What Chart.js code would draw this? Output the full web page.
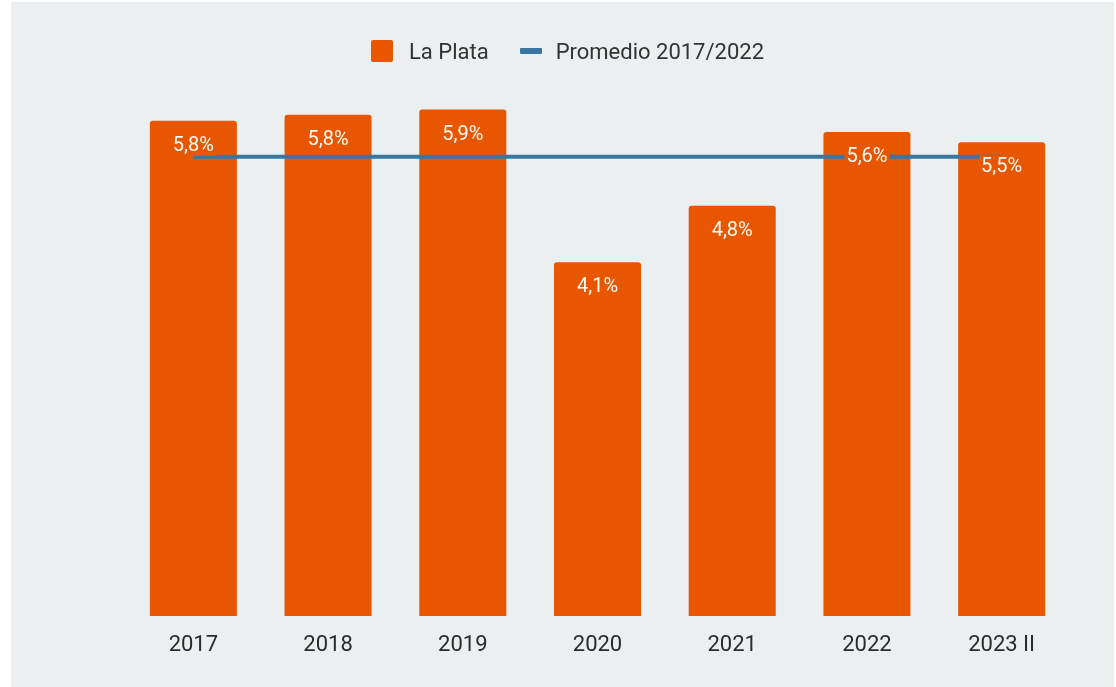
<!DOCTYPE html>
<html>
<head>
<meta charset="utf-8">
<script src="https://cdn.jsdelivr.net/npm/chart.js@4"></script>
<style>
  body { margin: 0; background: #fff; font-family: Roboto, sans-serif; }
  #panel { position: absolute; left: 11px; top: 2px; width: 1103px; height: 685px; background: #ebeff0; }
  #legend { position: absolute; left: 360px; top: 36px; height: 26px; display: flex; align-items: center;
            font-size: 22px; color: #333; white-space: nowrap; }
  .sq { width: 22px; height: 22px; border-radius: 2px; background: #e85600; margin-right: 16px; }
  .ln { width: 22px; height: 6px; border-radius: 1px; background: #3b76a0; margin-left: 31px; margin-right: 14px; }
  #wrap { position: absolute; left: 0; top: 0; width: 1103px; height: 685px; }
</style>
</head>
<body>
<div id="panel">
  <div id="wrap"><canvas id="myChart"></canvas></div>
  <div id="legend">
    <div class="sq"></div><span>La Plata</span>
    <div class="ln"></div><span>Promedio 2017/2022</span>
  </div>
</div>
<script>
var years = ["2017", "2018", "2019", "2020", "2021", "2022", "2023 II"];
var laPlata = [5.77, 5.84, 5.9, 4.12, 4.78, 5.64, 5.52];
var promedio = [5.35, 5.35, 5.35, 5.35, 5.35, 5.35, 5.35];
var yTicks = [0, 6];

var barColor = "#e85600";
var lineColor = "#3b76a0";

// etiquetas blancas dentro de las barras
var barLabels = {
  id: "barLabels",
  afterDatasetsDraw: function(chart) {
    var ctx = chart.ctx;
    var meta = chart.getDatasetMeta(0);
    ctx.save();
    ctx.font = "20px Roboto";
    ctx.textAlign = "center";
    ctx.textBaseline = "middle";
    meta.data.forEach(function(bar, i) {
      var txt = laPlata[i].toFixed(1).replace(".", ",") + "%";
      var w = ctx.measureText(txt).width + 4;
      var y = bar.y + 24;
      ctx.fillStyle = barColor;
      ctx.fillRect(bar.x - w / 2, y - 11, w, 22);
      ctx.fillStyle = "#fffaf3";
      ctx.fillText(txt, bar.x, y + 1);
    });
    ctx.restore();
  }
};

document.addEventListener("DOMContentLoaded", function() {
  var ctx = document.getElementById("myChart").getContext("2d");
  new Chart(ctx, {
    type: "bar",
    data: {
      labels: years,
      datasets: [{
        label: "La Plata",
        data: laPlata,
        backgroundColor: barColor,
        borderRadius: 3,
        borderSkipped: "bottom",
        categoryPercentage: 1.0,
        barPercentage: 0.646,
        order: 1
      }, {
        type: "line",
        label: "Promedio 2017/2022",
        data: promedio,
        borderColor: lineColor,
        borderWidth: 4,
        pointRadius: 0,
        fill: false,
        order: 0
      }]
    },
    options: {
      responsive: true,
      maintainAspectRatio: false,
      animation: false,
      layout: { padding: { top: 99, left: 115, right: 45, bottom: 31 } },
      plugins: { legend: { display: false }, tooltip: { enabled: false } },
      scales: {
        x: {
          grid: { display: false, drawTicks: false },
          border: { display: false },
          ticks: { color: "#2b2b2b", font: { family: "Roboto", size: 22 }, padding: 16 },
          afterFit: function(scale) { scale.height = 40; }
        },
        y: {
          display: false,
          min: yTicks[0],
          max: yTicks[1]
        }
      }
    },
    plugins: [barLabels]
  });
});
</script>
</body>
</html>
